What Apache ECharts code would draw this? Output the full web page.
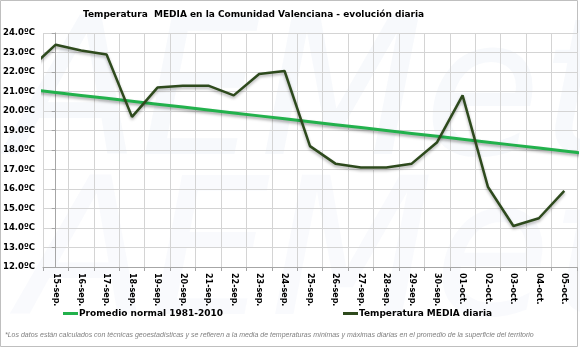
<!DOCTYPE html>
<html>
<head>
<meta charset="utf-8">
<script src="https://cdn.jsdelivr.net/npm/echarts@6/dist/echarts.min.js"></script>
<style>
html,body{margin:0;padding:0;background:#fff;}
#chart{width:580px;height:348px;}
</style>
</head>
<body>
<div id="chart"></div>
<script>
// Daily labels shown on the axis
var days = ['15-sep.','16-sep.','17-sep.','18-sep.','19-sep.','20-sep.','21-sep.','22-sep.','23-sep.','24-sep.','25-sep.',
            '26-sep.','27-sep.','28-sep.','29-sep.','30-sep.','01-oct.','02-oct.','03-oct.','04-oct.','05-oct.'];

// Daily mean temperature (ºC), starting on 14-sep (drawn partly, clipped at the left edge)
var mediaDiaria = [22.2, 23.4, 23.1, 22.9, 19.7, 21.2, 21.3, 21.3, 20.8, 21.9, 22.05,
                   18.2, 17.3, 17.1, 17.1, 17.3, 18.4, 20.8, 16.1, 14.1, 14.5, 15.9];
var mediaStart = -1;

// 1981-2010 normal (ºC), from 14-sep to 06-oct
var promedioNormal = [21.10, 20.95, 20.80, 20.65, 20.50, 20.35, 20.20, 20.05, 19.90, 19.75, 19.60, 19.45,
                      19.30, 19.15, 19.00, 18.85, 18.70, 18.55, 18.40, 18.25, 18.10, 17.95, 17.80];
var normalStart = -1;

var yTicks = {min: 12, max: 24, step: 1};

var nameNormal = 'Promedio normal 1981-2010';
var nameMedia = 'Temperatura MEDIA diaria';
var title = 'Temperatura  MEDIA en la Comunidad Valenciana - evolución diaria';
var footnote = '*Los datos están calculados con técnicas geoestadísticas y se refieren a la media de temperaturas mínimas y máximas diarias en el promedio de la superficie del territorio';
var watermark = 'AEMet';

function toPoints(values, start) {
  return values.map(function (v, i) { return [start + i, v]; });
}

var chart = echarts.init(document.getElementById('chart'), null, {renderer: 'canvas'});
var labelFont = 'DejaVu Sans, Verdana, sans-serif';

chart.setOption({
  animation: false,
  backgroundColor: '#ffffff',
  title: {
    text: title,
    left: 83, top: 10,
    padding: 0,
    textStyle: {fontFamily: labelFont, fontSize: 9, fontWeight: 'bold', color: '#000'}
  },
  grid: {left: 43, right: 3, top: 33, bottom: 81, containLabel: false},
  xAxis: [{
    type: 'category',
    data: days,
    boundaryGap: true,
    axisLine: {show: true, lineStyle: {color: '#a6a6a6', width: 1}},
    axisTick: {show: true, length: 4, lineStyle: {color: '#a6a6a6'}},
    splitLine: {show: true, lineStyle: {color: '#d4d4d4', width: 1}},
    axisLabel: {
      interval: 0, rotate: -90, margin: 6,
      fontFamily: labelFont, fontSize: 8, fontWeight: 'bold', color: '#000'
    }
  }, {
    type: 'value',
    min: -0.5, max: days.length - 0.5,
    show: false
  }],
  yAxis: {
    type: 'value',
    min: yTicks.min, max: yTicks.max, interval: yTicks.step,
    axisLine: {show: true, lineStyle: {color: '#a6a6a6'}},
    axisTick: {show: true, length: 4, lineStyle: {color: '#a6a6a6'}},
    splitLine: {show: true, lineStyle: {color: '#d4d4d4', width: 1}},
    axisLabel: {
      margin: 8,
      formatter: function (v) { return v.toFixed(1) + 'ºC'; },
      fontFamily: labelFont, fontSize: 8.5, fontWeight: 'bold', color: '#000'
    }
  },
  legend: [{
    data: [nameNormal], left: 63, top: 309, padding: 0,
    itemWidth: 15, itemHeight: 3, icon: 'rect',
    textStyle: {fontFamily: labelFont, fontSize: 9, fontWeight: 'bold', color: '#000', padding: [0, 0, 0, -4]}
  }, {
    data: [nameMedia], left: 343, top: 309, padding: 0,
    itemWidth: 15, itemHeight: 3, icon: 'rect',
    textStyle: {fontFamily: labelFont, fontSize: 9, fontWeight: 'bold', color: '#000', padding: [0, 0, 0, -4]}
  }],
  series: [{
    name: nameNormal,
    type: 'line',
    xAxisIndex: 1,
    data: toPoints(promedioNormal, normalStart),
    showSymbol: false,
    symbol: 'none',
    clip: true,
    color: '#22b14c',
    lineStyle: {color: '#22b14c', width: 3, shadowColor: 'rgba(0,0,0,0.35)', shadowBlur: 3, shadowOffsetY: 2}
  }, {
    name: nameMedia,
    type: 'line',
    xAxisIndex: 1,
    data: toPoints(mediaDiaria, mediaStart),
    showSymbol: false,
    symbol: 'none',
    clip: true,
    color: '#2e4a1d',
    lineStyle: {color: '#2e4a1d', width: 2.5, shadowColor: 'rgba(0,0,0,0.3)', shadowBlur: 3, shadowOffsetY: 2}
  }],
  graphic: [{
    type: 'text',
    left: 10, top: 10, z: -10, silent: true,
    style: {text: watermark, font: 'italic 190px "DejaVu Sans", sans-serif', fill: 'rgba(190,205,228,0.12)'}
  }, {
    type: 'text',
    left: 20, top: 170, z: -10, silent: true,
    style: {text: watermark, font: 'italic 190px "DejaVu Sans", sans-serif', fill: 'rgba(190,205,228,0.09)'}
  }, {
    type: 'rect',
    shape: {x: 0.5, y: 0.5, width: 577, height: 346},
    style: {fill: 'none', stroke: '#bfbfbf', lineWidth: 1},
    silent: true
  }, {
    type: 'text',
    left: 5, top: 332,
    style: {
      text: footnote,
      font: 'italic 7px "Liberation Sans", Arial, sans-serif',
      fill: '#7f7f7f'
    }
  }]
});
</script>
</body>
</html>
